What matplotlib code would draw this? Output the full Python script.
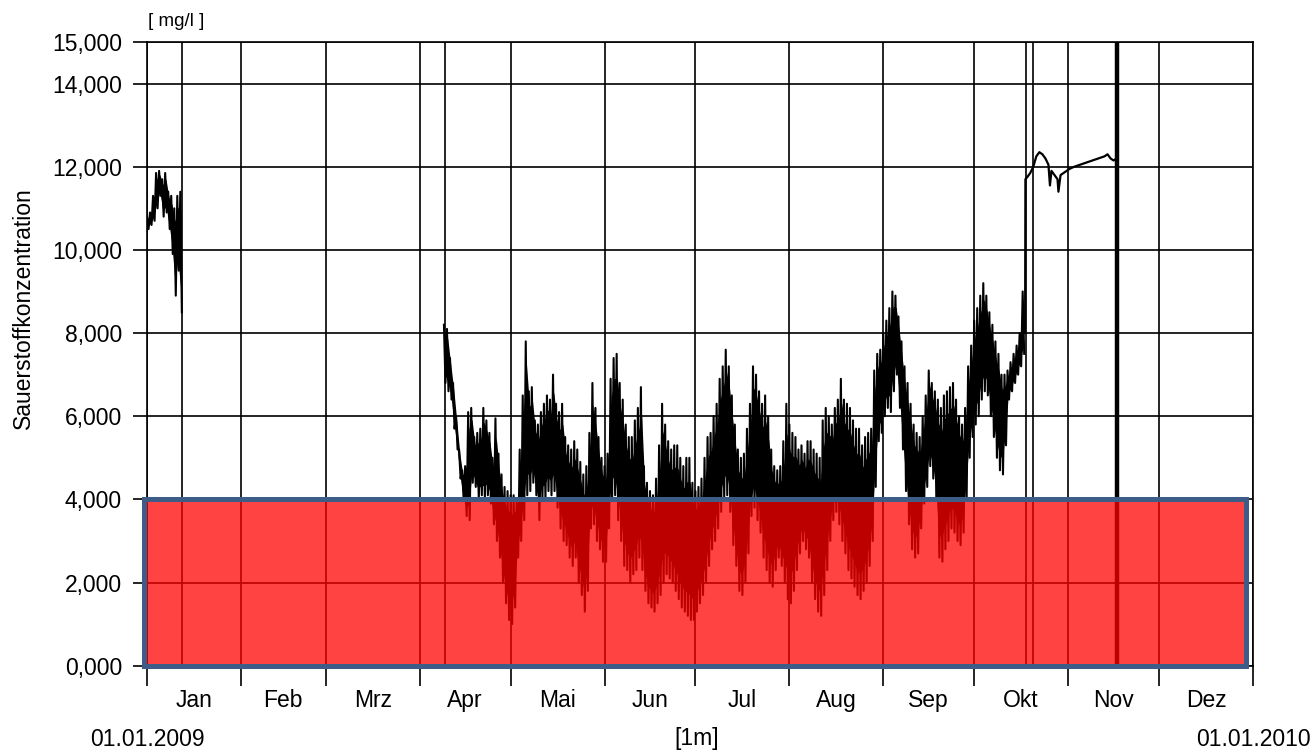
import numpy as np
import matplotlib
matplotlib.use('Agg')
import matplotlib.pyplot as plt
from matplotlib.patches import Rectangle

plt.rcParams['font.family'] = ['Liberation Sans', 'DejaVu Sans']

# Monatsnamen und Monatsanfaenge (Tage seit 01.01.2009)
months = ['Jan', 'Feb', 'Mrz', 'Apr', 'Mai', 'Jun', 'Jul', 'Aug', 'Sep', 'Okt', 'Nov', 'Dez']
month_start = (np.arange('2009-01', '2010-02', dtype='datetime64[M]').astype('datetime64[D]')
               - np.datetime64('2009-01-01')).astype(float)

# Januar: Tagesmaximum / Tagesminimum [mg/l]
jan_day = np.arange(0, 12)
jan_hi = [10.8, 10.9, 11.3, 11.85, 11.9, 11.7, 11.85, 11.4, 11.3, 11.0, 11.3, 11.4]
jan_lo = [10.5, 10.6, 10.7, 11.0, 11.3, 10.8, 10.9, 10.5, 9.9, 8.9, 9.5, 8.5]

# April bis Oktober: Tagesmaximum / Tagesminimum [mg/l], ab Tag 98
main_day = np.arange(98, 290)
main_hi = [8.2, 8.1, 7.4, 6.8, 6.0, 5.2, 4.7, 4.8, 6.1, 6.2, 5.5, 5.6, 5.7, 6.2, 5.9, 5.6,
           5.0, 5.95, 5.1, 4.6, 4.3, 4.2, 4.1, 4.1, 4.0, 5.2, 6.5, 7.8, 6.6, 6.7, 5.9, 5.8,
           6.1, 6.3, 6.5, 6.4, 7.0, 6.3, 6.1, 6.3, 5.5, 5.3, 5.2, 5.4, 5.2, 4.9, 4.6, 4.8,
           5.6, 6.8, 6.2, 5.5, 5.0, 4.8, 5.1, 6.9, 7.4, 7.5, 6.8, 6.4, 5.8, 5.5, 5.5, 5.9,
           6.2, 6.7, 4.8, 4.4, 4.2, 4.1, 4.5, 5.3, 6.3, 5.8, 5.4, 5.2, 5.3, 5.3, 5.0, 4.8,
           5.0, 5.0, 4.4, 4.2, 4.3, 4.5, 5.0, 5.5, 5.6, 6.0, 6.3, 6.9, 7.2, 7.6, 7.2, 6.5,
           5.8, 5.2, 5.0, 5.1, 5.7, 6.3, 7.2, 7.0, 6.6, 6.3, 6.5, 6.0, 5.2, 4.8, 4.7, 4.8,
           5.4, 6.3, 5.8, 5.6, 5.5, 5.2, 5.3, 5.1, 5.4, 5.4, 5.2, 5.1, 5.0, 5.9, 6.2, 6.0,
           5.8, 6.2, 6.4, 6.9, 6.4, 6.3, 6.2, 5.9, 5.7, 5.7, 5.3, 5.5, 5.6, 5.7, 7.1, 7.5,
           7.6, 8.0, 8.3, 8.6, 9.0, 8.9, 8.4, 7.8, 7.2, 6.8, 6.3, 5.8, 5.6, 5.5, 6.0, 6.5,
           7.1, 6.8, 6.6, 6.4, 6.2, 6.5, 6.6, 6.7, 6.8, 6.4, 6.0, 5.8, 6.2, 7.2, 7.7, 8.3,
           8.6, 8.9, 9.2, 8.9, 8.5, 8.2, 7.8, 7.5, 7.0, 7.0, 7.1, 7.3, 7.5, 7.7, 8.0, 9.0]
main_lo = [6.8, 6.6, 6.4, 5.7, 5.2, 4.5, 4.0, 3.6, 3.5, 4.4, 4.3, 4.0, 4.1, 4.0, 4.1, 3.9,
           3.4, 3.0, 2.6, 2.0, 1.5, 1.1, 1.0, 1.4, 2.6, 3.0, 3.5, 4.1, 4.2, 4.4, 4.1, 3.5,
           4.0, 4.0, 4.2, 4.1, 4.2, 3.8, 3.3, 3.0, 2.9, 2.6, 2.4, 2.6, 2.0, 1.7, 1.3, 1.8,
           3.3, 3.4, 3.0, 2.8, 2.5, 2.5, 3.3, 4.0, 4.1, 3.5, 3.0, 2.4, 2.3, 2.0, 2.2, 2.3,
           2.6, 2.3, 1.8, 1.5, 1.4, 1.3, 1.5, 1.7, 2.0, 2.2, 2.1, 2.0, 1.8, 1.6, 1.4, 1.3,
           1.2, 1.1, 1.1, 1.3, 1.5, 1.7, 2.0, 2.4, 2.8, 3.0, 3.3, 3.7, 4.0, 4.1, 3.7, 2.9,
           2.4, 1.8, 1.7, 2.0, 2.7, 3.6, 3.8, 3.5, 3.2, 2.6, 2.3, 2.0, 1.9, 2.3, 2.6, 2.4,
           2.0, 1.6, 1.5, 1.8, 2.3, 2.7, 3.0, 2.8, 2.6, 2.0, 1.6, 1.3, 1.2, 1.7, 2.3, 3.0,
           3.5, 3.7, 3.4, 3.0, 2.7, 2.3, 2.1, 1.9, 1.7, 1.6, 1.8, 2.0, 2.4, 3.0, 4.3, 5.4,
           5.6, 6.0, 6.2, 6.1, 6.6, 7.0, 6.2, 5.2, 4.2, 3.4, 2.8, 2.6, 2.7, 3.3, 3.9, 4.3,
           4.8, 4.5, 4.0, 2.6, 2.5, 2.8, 3.0, 3.3, 3.2, 3.0, 2.9, 3.2, 4.0, 5.0, 5.5, 5.8,
           6.0, 6.4, 6.6, 6.5, 6.0, 5.5, 5.0, 4.7, 4.6, 5.3, 6.4, 6.6, 6.8, 7.0, 7.2, 7.5]

# Oktober / November: ruhiger Verlauf nach dem Sprung
okt_day = [289.8, 289.9, 290.5, 291.5, 292.5, 293.5, 294.5, 295.5, 296.5, 297.5, 298.0,
           298.5, 299.5, 300.5, 300.8, 301.5, 302.5, 303.5, 304.5, 306, 308, 310, 312,
           314, 316, 317, 318, 319, 320]
okt_val = [8.0, 11.7, 11.75, 11.85, 12.0, 12.25, 12.35, 12.3, 12.2, 12.05, 11.55,
           11.9, 11.8, 11.7, 11.4, 11.8, 11.85, 11.9, 11.95, 12.0, 12.05, 12.1, 12.15,
           12.2, 12.25, 12.3, 12.2, 12.15, 12.2]

# Datenluecken / Geraetewechsel
gap_days = [11.4, 98.3, 290.0, 292.5]
gap_thick_day = 320.0

limit = 4.0
yticks = [0, 2, 4, 6, 8, 10, 12, 14, 15]


def zigzag(days, hi, lo):
    x = np.column_stack([days, np.asarray(days) + 0.5]).ravel()
    y = np.column_stack([hi, lo]).ravel()
    return x, y


fig = plt.figure(figsize=(13.16, 7.54), dpi=100)
ax = fig.add_axes([0.1117, 0.1171, 0.8404, 0.8272])
ax.set_xlim(month_start[0], month_start[-1])
ax.set_ylim(0, 15)

# Tagesschwankung: dichter Kern, Einzelspitzen bis Min/Max
for d, hi, lo in [(jan_day, jan_hi, jan_lo), (main_day, main_hi, main_lo)]:
    hi = np.asarray(hi)
    lo = np.asarray(lo)
    span = hi - lo
    ax.fill_between(d + 0.25, lo + 0.15 * span, hi - 0.15 * span,
                    color='black', lw=0, zorder=3)
    x, y = zigzag(d, hi, lo)
    ax.plot(x, y, color='black', lw=1.5, zorder=3)
ax.plot(okt_day, okt_val, color='black', lw=1.6, zorder=3)

for d in gap_days:
    ax.axvline(d, color='black', lw=1.2, zorder=2)
ax.axvline(gap_thick_day, color='black', lw=3.2, zorder=3)

# Grenzwertbereich
box = Rectangle((-1.0, 0), 363.7, limit, facecolor=(1, 0, 0, 0.74),
                edgecolor='#3d5c88', lw=3.6, zorder=5, clip_on=False)
ax.add_patch(box)

ax.set_yticks(yticks)
ax.set_yticklabels([('%.3f' % v).replace('.', ',') for v in yticks])
ax.set_xticks(month_start)
ax.set_xticklabels([])
mids = (month_start[:-1] + month_start[1:]) / 2
ax.set_xticks(mids, minor=True)
ax.set_xticklabels(months, minor=True)

ax.grid(True, which='major', color='black', lw=1.2)
ax.set_axisbelow(True)
for s in ax.spines.values():
    s.set_color('black')
    s.set_linewidth(1.2)

ax.tick_params(axis='y', which='major', direction='out', length=10, width=1.2,
               pad=8, labelsize=16.5, colors='black')
ax.tick_params(axis='x', which='major', direction='out', length=14.5, width=1.2)
ax.tick_params(axis='x', which='minor', length=0, pad=17, labelsize=16.5)

W, H = 1316, 754
fig.text(23 / W, 1 - 308 / H, 'Sauerstoffkonzentration', rotation=90,
         ha='center', va='center', fontsize=16.5)
fig.text(176 / W, 1 - 21 / H, '[ mg/l ]', ha='center', va='center', fontsize=13.5)
fig.text(147 / W, 1 - 739 / H, '01.01.2009', ha='center', va='center', fontsize=16.5)
fig.text(697 / W, 1 - 739 / H, '[1m]', ha='center', va='center', fontsize=16.5)
fig.text(1253 / W, 1 - 739 / H, '01.01.2010', ha='center', va='center', fontsize=16.5)

fig.savefig('out.png', dpi=100)
